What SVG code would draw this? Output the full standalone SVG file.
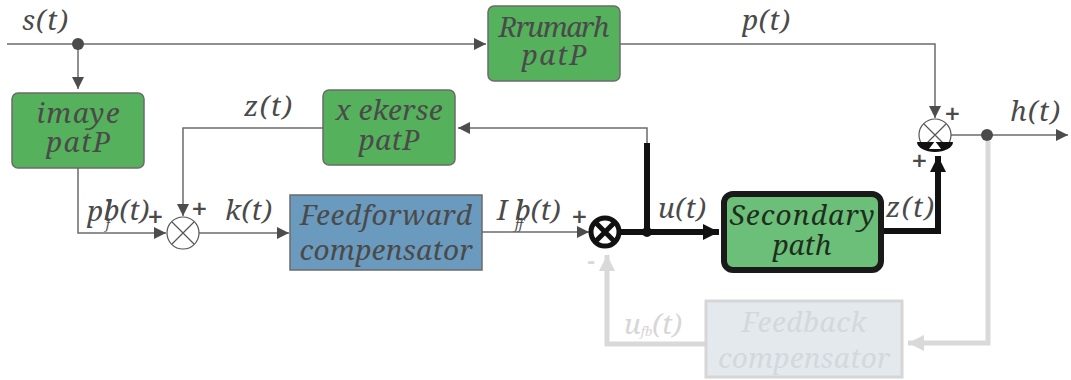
<svg xmlns="http://www.w3.org/2000/svg" width="1071" height="380" viewBox="0 0 1071 380">
<defs>
<style>
.lbl{font-family:"Noto Serif","DejaVu Serif","Liberation Serif",serif;font-style:italic;font-size:28px;fill:#4a4a4a}
.bt{font-family:"Noto Serif","DejaVu Serif","Liberation Serif",serif;font-style:italic;font-size:28px;fill:#4a4a4a;text-anchor:middle}
.gbox{fill:#56b15c;stroke:#6b6b6b;stroke-width:1.5}
.ln{fill:none;stroke:#6b6b6b;stroke-width:1.5}
.thick{fill:none;stroke:#111;stroke-width:6}
.fbl{fill:none;stroke:#d9d9d9;stroke-width:5}
.pl{font-family:"DejaVu Sans",sans-serif;font-weight:bold;font-size:20px;fill:#4a4a4a}
.sub{font-size:13px}
</style>
<marker id="ah" viewBox="0 0 10 10" refX="10" refY="5" markerWidth="12" markerHeight="12" markerUnits="userSpaceOnUse" orient="auto"><path d="M0,0 L10,5 L0,10 z" fill="#4d4d4d"/></marker>
<marker id="ahb" viewBox="0 0 10 10" refX="10" refY="5" markerWidth="16" markerHeight="16" markerUnits="userSpaceOnUse" orient="auto"><path d="M0,0 L10,5 L0,10 z" fill="#111"/></marker>
<marker id="ahg" viewBox="0 0 10 10" refX="10" refY="5" markerWidth="16" markerHeight="16" markerUnits="userSpaceOnUse" orient="auto"><path d="M0,0 L10,5 L0,10 z" fill="#d9d9d9"/></marker>
</defs>

<g id="connectors">
<path class="ln" d="M7,44 H486" marker-end="url(#ah)"/>
<path class="ln" d="M78,44 V89" marker-end="url(#ah)"/>
<path class="ln" d="M620,44 H935 V118" marker-end="url(#ah)"/>
<path class="ln" d="M951,135 H1068" marker-end="url(#ah)"/>
<path class="ln" d="M78,168 V233 H166" marker-end="url(#ah)"/>
<path class="ln" d="M323,128 H183 V216" marker-end="url(#ah)"/>
<path class="ln" d="M199,233 H289" marker-end="url(#ah)"/>
<path class="ln" d="M482,232 H589" marker-end="url(#ah)"/>
<path class="ln" d="M647,143 V128 H458" marker-end="url(#ah)"/>
<path class="thick" d="M647,143 V232"/>
<path class="thick" d="M619,232 H719" marker-end="url(#ahb)"/>
<path class="thick" d="M882,231 H938 V156" marker-end="url(#ahb)"/>
<path class="fbl" d="M988,141 V343 H908" marker-end="url(#ahg)"/>
<path class="fbl" d="M705,344 H607 V255" marker-end="url(#ahg)"/>
<circle cx="78" cy="44" r="6" fill="#4a4a4a"/>
<circle cx="987" cy="135" r="6" fill="#4a4a4a"/>
<circle cx="647" cy="232" r="5" fill="#111"/>
</g>

<g id="sum1">
<circle cx="183" cy="233" r="16" fill="#fff" stroke="#555" stroke-width="1.2"/>
<path d="M172,222 L194,244 M194,222 L172,244" stroke="#555" stroke-width="1.2"/>
<text class="pl" x="147" y="223">+</text>
<text class="pl" x="191" y="215">+</text>
</g>

<g id="sum2">
<circle cx="605" cy="232" r="14" fill="#fff" stroke="#111" stroke-width="5"/>
<path d="M596,223 L614,241 M614,223 L596,241" stroke="#111" stroke-width="5"/>
<text class="pl" x="571" y="223">+</text>
<text class="pl" x="587" y="268" style="fill:#d9d9d9">-</text>
</g>

<g id="sum3">
<circle cx="935" cy="135" r="16" fill="#fff" stroke="#555" stroke-width="1.2"/>
<path d="M924,124 L946,146 M946,124 L924,146" stroke="#555" stroke-width="1.2"/>
<path d="M917,142 A18,10 0 0 0 953,142 Z" fill="#111"/>
<path d="M935,141 L941,149 L929,149 Z" fill="#fff"/>
<text class="pl" x="944" y="120">+</text>
<text class="pl" x="911" y="167">+</text>
</g>

<g id="imaye">
<rect class="gbox" x="12" y="93" width="132" height="75" rx="6"/>
<text class="bt" x="78" y="123" textLength="83">imaye</text>
<text class="bt" x="78" y="152" textLength="64">patP</text>
</g>

<g id="rrumarh">
<rect class="gbox" x="488" y="6" width="132" height="75" rx="6"/>
<text class="bt" x="554" y="37" textLength="111">Rrumarh</text>
<text class="bt" x="554" y="65" textLength="65">patP</text>
</g>

<g id="xekerse">
<rect class="gbox" x="323" y="90" width="132" height="75" rx="6"/>
<text class="bt" x="389" y="120" textLength="107">x ekerse</text>
<text class="bt" x="389" y="150" textLength="61">patP</text>
</g>

<g id="feedforward">
<rect x="290" y="195" width="192" height="75" fill="#6a9abd" stroke="#6b6b6b" stroke-width="1.5"/>
<text class="bt" x="386" y="225" textLength="172">Feedforward</text>
<text class="bt" x="386" y="260" textLength="173">compensator</text>
</g>

<g id="secondary">
<rect x="724" y="194" width="157" height="76" rx="9" fill="#6cbf78" stroke="#1a1a1a" stroke-width="6"/>
<text class="bt" x="802" y="225" textLength="145" style="fill:#1e2e1e">Secondary</text>
<text class="bt" x="802" y="255" textLength="59" style="fill:#1e2e1e">path</text>
</g>

<g id="feedback">
<rect x="706" y="301" width="196" height="76" fill="#e4e9ee" stroke="#d6d6d6" stroke-width="3"/>
<text class="bt" x="804" y="332" textLength="125" style="fill:#d3d8dc">Feedback</text>
<text class="bt" x="804" y="368" textLength="172" style="fill:#d3d8dc">compensator</text>
</g>

<g id="labels">
<text class="lbl" x="22" y="30" textLength="46">s(t)</text>
<text class="lbl" x="742" y="30" textLength="48">p(t)</text>
<text class="lbl" x="1010" y="121" textLength="50">h(t)</text>
<text class="lbl" x="244" y="116" textLength="48">z(t)</text>
<text class="lbl" x="225" y="220" textLength="47">k(t)</text>
<text class="lbl" x="658" y="218" textLength="48">u(t)</text>
<text class="lbl" x="886" y="217" textLength="48">z(t)</text>
<text class="lbl" x="87" y="221">pl<tspan class="sub" dx="-6" dy="8">f</tspan><tspan dx="-6" dy="-9">b(t)</tspan></text>
<text class="lbl" x="497" y="220">I l<tspan class="sub" dx="-8" dy="9">ff</tspan><tspan dx="-8" dy="-9">b(t)</tspan></text>
<text class="lbl" x="624" y="334" style="fill:#d6d6d6">u<tspan class="sub" dy="2">fb</tspan><tspan dy="-2">(t)</tspan></text>
</g>
</svg>
